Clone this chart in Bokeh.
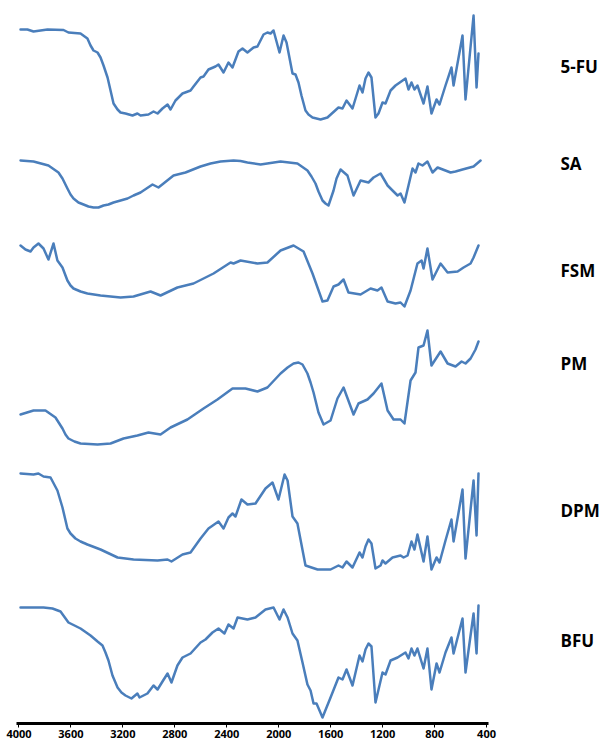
from bokeh.plotting import figure
from bokeh.models import Range1d, LinearAxis, FixedTicker
from bokeh.embed import file_html
from bokeh.resources import INLINE

# FTIR spectra: wavenumber (cm-1) and relative transmittance (arbitrary units)
fu_wn = [3988, 3935, 3888, 3834, 3780, 3657, 3619, 3526, 3473, 3449, 3426, 3395, 3372, 3349,
         3318, 3295, 3272, 3241, 3218, 3180, 3126, 3088, 3064, 3003, 2964, 2933, 2895, 2856,
         2833, 2795, 2741, 2679, 2656, 2602, 2579, 2541, 2487, 2464, 2425, 2387, 2356, 2310,
         2279, 2241, 2194, 2164, 2117, 2087, 2063, 2040, 1994, 1963, 1940, 1894, 1871, 1848,
         1825, 1794, 1771, 1740, 1678, 1625, 1540, 1509, 1478, 1432, 1378, 1355, 1332, 1309,
         1286, 1255, 1232, 1201, 1178, 1139, 1101, 1024, 1001, 978, 955, 932, 885, 855, 824,
         785, 762, 716, 670, 654, 585, 562, 500, 477, 462]
fu_t = [91, 91, 89, 90, 91, 90.5, 88, 87, 82, 75, 70, 68, 63, 55,
        43, 30, 17, 11, 8, 7, 5, 7, 5, 6, 9, 7, 12, 16,
        11, 20, 27, 30, 34, 43, 44, 51, 54, 56, 48, 58, 53, 69,
        72, 68, 73, 74, 86, 88, 87, 90, 68, 85, 78, 47, 46, 38,
        25, 10, 6, 3, 1, 3, 13, 12, 20, 12, 35, 28, 42, 48,
        43, 3, 7, 18, 17, 30, 35, 42, 31, 38, 31, 35, 17, 34, 7,
        21, 16, 35, 53, 35, 85, 21, 105, 33, 67]

sa_wn = [3988, 3888, 3773, 3696, 3665, 3627, 3603, 3580, 3542, 3503, 3465, 3426, 3388, 3349,
         3311, 3272, 3218, 3164, 3118, 3064, 3018, 2972, 2926, 2810, 2718, 2602, 2525, 2448,
         2348, 2294, 2241, 2140, 1986, 1856, 1779, 1748, 1717, 1694, 1663, 1640, 1617, 1578,
         1555, 1524, 1471, 1424, 1370, 1309, 1270, 1216, 1162, 1124, 1085, 1062, 1032, 1001,
         970, 947, 924, 893, 855, 816, 777, 677, 639, 585, 500, 446]
sa_t = [50, 49, 45, 38, 32, 22, 16, 12, 8, 6, 4, 3, 3, 5,
        6, 8, 10, 12, 15, 18, 22, 26, 23, 35, 38, 44, 47, 49,
        50, 49.5, 48, 46, 49, 47, 40, 34, 27, 19, 10, 7, 5, 20,
        32, 41, 35, 15, 30, 28, 33, 37, 25, 20, 15, 17, 8, 25,
        42, 38, 47, 45, 49, 38, 43, 38, 39, 41, 44, 50]

fsm_wn = [3988, 3950, 3911, 3888, 3850, 3811, 3773, 3734, 3704, 3665, 3627, 3603, 3580, 3526,
          3473, 3372, 3218, 3118, 2987, 2910, 2780, 2656, 2502, 2371, 2348, 2294, 2164, 2087,
          1986, 1886, 1809, 1740, 1663, 1625, 1578, 1540, 1501, 1463, 1370, 1293, 1240, 1209,
          1162, 1101, 1062, 1032, 985, 932, 900, 885, 855, 816, 754, 700, 623, 577, 523, 500, 462]
fsm_t = [65, 61, 59, 63, 67, 62, 51, 67, 50, 43, 30, 25, 22, 19,
         17, 15, 13, 14, 19, 15, 23, 27, 37, 48, 47, 50, 47, 48,
         60, 65, 59, 37, 9, 10, 24, 26, 31, 18, 16, 22, 20, 23,
         9, 7, 8, 4, 20, 47, 50, 42, 62, 31, 47, 38, 39, 43, 47, 53, 65]

pm_wn = [3988, 3888, 3796, 3719, 3665, 3642, 3619, 3573, 3526, 3395, 3295, 3195, 3088, 3003,
         2910, 2833, 2703, 2579, 2472, 2356, 2256, 2164, 2087, 1986, 1932, 1886, 1848, 1817,
         1779, 1755, 1732, 1694, 1655, 1601, 1548, 1501, 1424, 1386, 1317, 1270, 1209, 1162,
         1116, 1062, 1032, 985, 947, 924, 885, 855, 824, 754, 700, 639, 592, 562, 523, 485, 462]
pm_t = [31, 35, 35, 28, 17, 11, 7, 4, 2, 1, 2, 7, 10, 13,
        11, 18, 26, 37, 46, 57, 57, 54, 58, 72, 78, 82, 83, 81,
        72, 63, 53, 33, 21, 25, 47, 58, 31, 42, 46, 52, 62, 35,
        26, 26, 22, 65, 73, 98, 100, 115, 80, 94, 82, 79, 84, 82, 87, 96, 104]

dpm_wn = [3988, 3888, 3850, 3811, 3757, 3704, 3665, 3627, 3603, 3565, 3526, 3473, 3372, 3241,
          3118, 2933, 2856, 2826, 2741, 2679, 2602, 2541, 2464, 2425, 2387, 2356, 2333, 2287,
          2241, 2179, 2102, 2048, 2002, 1955, 1932, 1894, 1856, 1794, 1701, 1601, 1540, 1509,
          1478, 1432, 1378, 1355, 1332, 1309, 1286, 1255, 1216, 1201, 1178, 1124, 1062, 1039,
          1008, 978, 955, 932, 885, 855, 824, 785, 762, 716, 670, 654, 585, 562, 500, 477, 462]
dpm_t = [97, 96, 97, 94, 93, 80, 63, 42, 37, 32, 29, 26, 21, 13,
         11, 10, 11, 9, 16, 18, 32, 42, 49, 42, 53, 57, 54, 71,
         66, 67, 82, 88, 71, 96, 90, 54, 47, 5, 1, 1, 5, 3,
         9, 3, 18, 13, 24, 31, 27, 2, 5, 10, 7, 13, 15, 13,
         15, 29, 21, 36, 9, 34, 1, 13, 8, 30, 51, 29, 81, 12, 90, 35, 97]

bfu_wn = [3988, 3888, 3811, 3742, 3680, 3619, 3526, 3449, 3395, 3357, 3334, 3311, 3280, 3241,
          3211, 3180, 3134, 3088, 3072, 3011, 2964, 2933, 2895, 2856, 2826, 2780, 2741, 2679,
          2602, 2564, 2510, 2464, 2418, 2387, 2348, 2317, 2241, 2179, 2102, 2040, 1994, 1963,
          1932, 1894, 1856, 1817, 1779, 1755, 1732, 1709, 1663, 1601, 1540, 1509, 1478, 1432,
          1378, 1355, 1332, 1309, 1286, 1255, 1201, 1178, 1139, 1085, 1024, 1001, 978, 955,
          932, 885, 855, 824, 785, 762, 716, 670, 654, 585, 562, 500, 477, 462]
bfu_t = [113, 113, 113, 112, 109, 98, 92, 85, 79, 75, 68, 60, 45, 33,
         28, 25, 22, 27, 23, 27, 35, 31, 39, 47, 38, 55, 63, 67,
         78, 81, 88, 92, 87, 96, 92, 103, 101, 103, 111, 113, 101, 111,
         103, 87, 80, 58, 36, 30, 17, 17, 3, 23, 43, 41, 51, 35,
         65, 59, 71, 77, 74, 18, 48, 46, 60, 63, 68, 62, 72, 65,
         72, 52, 72, 31, 57, 48, 68, 83, 67, 102, 48, 107, 67, 115]

samples = ["5-FU", "SA", "FSM", "PM", "DPM", "BFU"]
wn_ticks = [4000, 3600, 3200, 2800, 2400, 2000, 1600, 1200, 800, 400]

spectra = [(fu_wn, fu_t), (sa_wn, sa_t), (fsm_wn, fsm_t),
           (pm_wn, pm_t), (dpm_wn, dpm_t), (bfu_wn, bfu_t)]

# vertical stacking offsets for each trace and the height of its name
offsets = [604, 514, 414, 279, 154, 4]
name_levels = [658, 561, 454, 361, 214, 84]

LINE = "#4a7ebb"

p = figure(width=602, height=742, output_backend="svg", toolbar_location=None,
           x_range=Range1d(4019, 385), y_range=Range1d(1, 724),
           y_axis_location=None,
           min_border_left=16, min_border_right=114, min_border_top=0, min_border_bottom=19)
p.grid.visible = False
p.outline_line_color = None
p.background_fill_color = "white"
p.border_fill_color = "white"

for (wn, t), off in zip(spectra, offsets):
    p.line(wn, [v + off for v in t], line_color=LINE, line_width=2.5,
           line_join="round", line_cap="round")

xa = p.xaxis[0]
xa.ticker = FixedTicker(ticks=wn_ticks)
xa.major_label_overrides = {w: str(w) for w in wn_ticks}
xa.axis_line_width = 3
xa.axis_line_color = "black"
xa.major_tick_line_color = "black"
xa.major_tick_line_width = 1
xa.major_tick_out = 4
xa.major_tick_in = 0
xa.minor_tick_line_color = None
xa.major_label_standoff = 2
xa.major_label_text_font = "Open Sans"
xa.major_label_text_font_style = "bold"
xa.major_label_text_font_size = "11px"
xa.major_label_text_color = "black"

names = LinearAxis(ticker=FixedTicker(ticks=name_levels),
                   major_label_overrides={lvl: s for lvl, s in zip(name_levels, samples)})
names.axis_line_color = None
names.major_tick_line_color = None
names.minor_tick_line_color = None
names.major_tick_out = 0
names.major_tick_in = 0
names.major_label_standoff = 72
names.major_label_text_font = "Open Sans"
names.major_label_text_font_style = "bold"
names.major_label_text_font_size = "17px"
names.major_label_text_color = "black"
p.add_layout(names, "right")

open("out.html", "w").write(file_html(p, INLINE))
